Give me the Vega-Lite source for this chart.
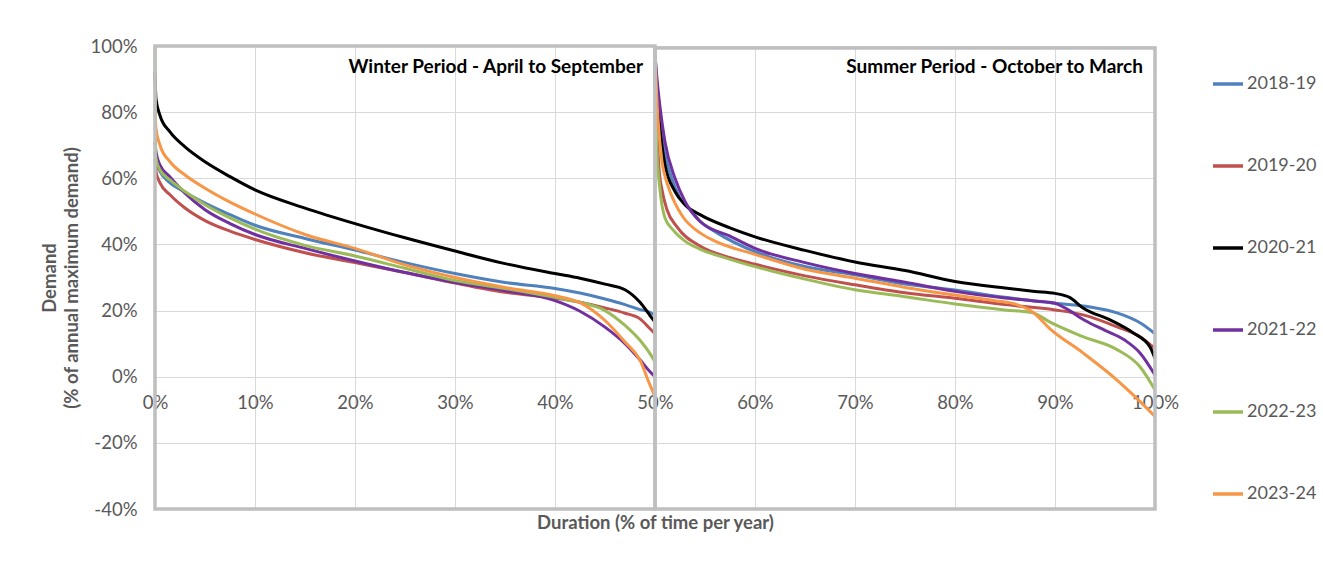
{
"$schema": "https://vega.github.io/schema/vega-lite/v6.json",
"width": 1000, "height": 463,
"autosize": {"type": "none"},
"padding": {"left": 155, "top": 46, "right": 168, "bottom": 71},
"background": "white",
"config": {"view": {"stroke": null}, "font": "Lato"},
"layer": [
{
"data": {"values": [
{"s":"2018-19","p":"W","x":0,"y":68},{"s":"2018-19","p":"W","x":0.1,"y":65},{"s":"2018-19","p":"W","x":0.5,"y":62},{"s":"2018-19","p":"W","x":1.5,"y":58.6},{"s":"2018-19","p":"W","x":3,"y":55.8},{"s":"2018-19","p":"W","x":5,"y":52.5},{"s":"2018-19","p":"W","x":7.5,"y":49},{"s":"2018-19","p":"W","x":10,"y":45.8},{"s":"2018-19","p":"W","x":15,"y":41.8},{"s":"2018-19","p":"W","x":20,"y":38.3},{"s":"2018-19","p":"W","x":25,"y":34.5},{"s":"2018-19","p":"W","x":30,"y":31.2},{"s":"2018-19","p":"W","x":35,"y":28.5},{"s":"2018-19","p":"W","x":40,"y":26.7},{"s":"2018-19","p":"W","x":42.5,"y":25.3},{"s":"2018-19","p":"W","x":45,"y":23.5},{"s":"2018-19","p":"W","x":47,"y":21.8},{"s":"2018-19","p":"W","x":48.5,"y":20.3},{"s":"2018-19","p":"W","x":49.5,"y":19.5},{"s":"2018-19","p":"W","x":50,"y":18.5},
{"s":"2018-19","p":"S","x":50,"y":98},{"s":"2018-19","p":"S","x":50.2,"y":88},{"s":"2018-19","p":"S","x":50.5,"y":76.7},{"s":"2018-19","p":"S","x":51,"y":67},{"s":"2018-19","p":"S","x":51.5,"y":61.6},{"s":"2018-19","p":"S","x":52.5,"y":54},{"s":"2018-19","p":"S","x":53.5,"y":50.5},{"s":"2018-19","p":"S","x":54.5,"y":47},{"s":"2018-19","p":"S","x":56.2,"y":43.5},{"s":"2018-19","p":"S","x":60,"y":37.8},{"s":"2018-19","p":"S","x":65,"y":33.3},{"s":"2018-19","p":"S","x":70,"y":30.8},{"s":"2018-19","p":"S","x":75,"y":28},{"s":"2018-19","p":"S","x":80,"y":26.2},{"s":"2018-19","p":"S","x":85,"y":24},{"s":"2018-19","p":"S","x":90,"y":22.2},{"s":"2018-19","p":"S","x":93.5,"y":21.1},{"s":"2018-19","p":"S","x":96.2,"y":19.3},{"s":"2018-19","p":"S","x":98.5,"y":16.3},{"s":"2018-19","p":"S","x":100,"y":13},
{"s":"2019-20","p":"W","x":0,"y":66},{"s":"2019-20","p":"W","x":0.1,"y":62},{"s":"2019-20","p":"W","x":0.5,"y":58.6},{"s":"2019-20","p":"W","x":1.5,"y":55},{"s":"2019-20","p":"W","x":3,"y":51},{"s":"2019-20","p":"W","x":5,"y":47.2},{"s":"2019-20","p":"W","x":7.5,"y":44},{"s":"2019-20","p":"W","x":10,"y":41.5},{"s":"2019-20","p":"W","x":15,"y":37.5},{"s":"2019-20","p":"W","x":20,"y":34.5},{"s":"2019-20","p":"W","x":25,"y":31.5},{"s":"2019-20","p":"W","x":30,"y":28.3},{"s":"2019-20","p":"W","x":35,"y":25.5},{"s":"2019-20","p":"W","x":40,"y":23.8},{"s":"2019-20","p":"W","x":42.5,"y":22.5},{"s":"2019-20","p":"W","x":45,"y":20.8},{"s":"2019-20","p":"W","x":47,"y":19.2},{"s":"2019-20","p":"W","x":48.5,"y":17.5},{"s":"2019-20","p":"W","x":49.5,"y":14.5},{"s":"2019-20","p":"W","x":50,"y":13},
{"s":"2019-20","p":"S","x":50,"y":93},{"s":"2019-20","p":"S","x":50.2,"y":75},{"s":"2019-20","p":"S","x":50.4,"y":63},{"s":"2019-20","p":"S","x":50.7,"y":56.5},{"s":"2019-20","p":"S","x":51.2,"y":50.5},{"s":"2019-20","p":"S","x":52.2,"y":45.3},{"s":"2019-20","p":"S","x":54.5,"y":39.5},{"s":"2019-20","p":"S","x":57.5,"y":36},{"s":"2019-20","p":"S","x":60,"y":34},{"s":"2019-20","p":"S","x":65,"y":30.5},{"s":"2019-20","p":"S","x":70,"y":27.8},{"s":"2019-20","p":"S","x":75,"y":25.4},{"s":"2019-20","p":"S","x":80,"y":23.7},{"s":"2019-20","p":"S","x":85,"y":21.8},{"s":"2019-20","p":"S","x":90,"y":20.2},{"s":"2019-20","p":"S","x":92.8,"y":18.7},{"s":"2019-20","p":"S","x":96.2,"y":15.1},{"s":"2019-20","p":"S","x":98.5,"y":12.1},{"s":"2019-20","p":"S","x":100,"y":8.5},
{"s":"2020-21","p":"W","x":0,"y":92},{"s":"2020-21","p":"W","x":0.1,"y":84},{"s":"2020-21","p":"W","x":0.5,"y":79},{"s":"2020-21","p":"W","x":1.5,"y":74},{"s":"2020-21","p":"W","x":3,"y":69.5},{"s":"2020-21","p":"W","x":5,"y":65},{"s":"2020-21","p":"W","x":7.5,"y":60.5},{"s":"2020-21","p":"W","x":10,"y":56.5},{"s":"2020-21","p":"W","x":15,"y":51},{"s":"2020-21","p":"W","x":20,"y":46.3},{"s":"2020-21","p":"W","x":25,"y":42},{"s":"2020-21","p":"W","x":30,"y":38},{"s":"2020-21","p":"W","x":35,"y":34.2},{"s":"2020-21","p":"W","x":40,"y":31.2},{"s":"2020-21","p":"W","x":42.5,"y":29.8},{"s":"2020-21","p":"W","x":45,"y":28},{"s":"2020-21","p":"W","x":47,"y":26.3},{"s":"2020-21","p":"W","x":48.5,"y":22.5},{"s":"2020-21","p":"W","x":49.5,"y":18.5},{"s":"2020-21","p":"W","x":50,"y":16.5},
{"s":"2020-21","p":"S","x":50,"y":95},{"s":"2020-21","p":"S","x":50.2,"y":85},{"s":"2020-21","p":"S","x":50.5,"y":75},{"s":"2020-21","p":"S","x":51,"y":64},{"s":"2020-21","p":"S","x":52,"y":56},{"s":"2020-21","p":"S","x":53,"y":52},{"s":"2020-21","p":"S","x":54.5,"y":49},{"s":"2020-21","p":"S","x":57.5,"y":45},{"s":"2020-21","p":"S","x":60,"y":42.3},{"s":"2020-21","p":"S","x":65,"y":38.2},{"s":"2020-21","p":"S","x":70,"y":34.7},{"s":"2020-21","p":"S","x":75,"y":32.1},{"s":"2020-21","p":"S","x":80,"y":28.8},{"s":"2020-21","p":"S","x":85,"y":26.8},{"s":"2020-21","p":"S","x":88,"y":25.8},{"s":"2020-21","p":"S","x":90,"y":25.2},{"s":"2020-21","p":"S","x":91.5,"y":23.9},{"s":"2020-21","p":"S","x":92.8,"y":20.8},{"s":"2020-21","p":"S","x":95.5,"y":17.2},{"s":"2020-21","p":"S","x":97.8,"y":13.3},{"s":"2020-21","p":"S","x":99.5,"y":9},{"s":"2020-21","p":"S","x":100,"y":5.5},
{"s":"2021-22","p":"W","x":0,"y":71},{"s":"2021-22","p":"W","x":0.1,"y":68},{"s":"2021-22","p":"W","x":0.5,"y":64},{"s":"2021-22","p":"W","x":1.5,"y":60.4},{"s":"2021-22","p":"W","x":3,"y":55.5},{"s":"2021-22","p":"W","x":5,"y":50.5},{"s":"2021-22","p":"W","x":7.5,"y":46.3},{"s":"2021-22","p":"W","x":10,"y":43},{"s":"2021-22","p":"W","x":15,"y":38.8},{"s":"2021-22","p":"W","x":20,"y":35},{"s":"2021-22","p":"W","x":25,"y":31.5},{"s":"2021-22","p":"W","x":30,"y":28.5},{"s":"2021-22","p":"W","x":35,"y":26},{"s":"2021-22","p":"W","x":40,"y":23},{"s":"2021-22","p":"W","x":42.5,"y":19.8},{"s":"2021-22","p":"W","x":45,"y":15},{"s":"2021-22","p":"W","x":47,"y":10},{"s":"2021-22","p":"W","x":48.5,"y":5.1},{"s":"2021-22","p":"W","x":49.5,"y":1.5},{"s":"2021-22","p":"W","x":50,"y":0},
{"s":"2021-22","p":"S","x":50,"y":97},{"s":"2021-22","p":"S","x":50.2,"y":90},{"s":"2021-22","p":"S","x":50.5,"y":81.6},{"s":"2021-22","p":"S","x":51,"y":71},{"s":"2021-22","p":"S","x":52,"y":60},{"s":"2021-22","p":"S","x":53,"y":53},{"s":"2021-22","p":"S","x":54.5,"y":47},{"s":"2021-22","p":"S","x":57.5,"y":42.5},{"s":"2021-22","p":"S","x":60,"y":38.8},{"s":"2021-22","p":"S","x":65,"y":34.5},{"s":"2021-22","p":"S","x":70,"y":31.2},{"s":"2021-22","p":"S","x":75,"y":28.6},{"s":"2021-22","p":"S","x":80,"y":25.8},{"s":"2021-22","p":"S","x":85,"y":23.8},{"s":"2021-22","p":"S","x":88,"y":22.9},{"s":"2021-22","p":"S","x":90,"y":22.2},{"s":"2021-22","p":"S","x":91,"y":20.8},{"s":"2021-22","p":"S","x":93,"y":17},{"s":"2021-22","p":"S","x":95,"y":14},{"s":"2021-22","p":"S","x":97,"y":11},{"s":"2021-22","p":"S","x":98.5,"y":7.2},{"s":"2021-22","p":"S","x":100,"y":0.5},
{"s":"2022-23","p":"W","x":0,"y":100},{"s":"2022-23","p":"W","x":0.05,"y":70},{"s":"2022-23","p":"W","x":0.1,"y":66},{"s":"2022-23","p":"W","x":0.5,"y":62.5},{"s":"2022-23","p":"W","x":1.5,"y":59.5},{"s":"2022-23","p":"W","x":3,"y":56},{"s":"2022-23","p":"W","x":5,"y":52},{"s":"2022-23","p":"W","x":7.5,"y":48},{"s":"2022-23","p":"W","x":10,"y":44.6},{"s":"2022-23","p":"W","x":15,"y":39.7},{"s":"2022-23","p":"W","x":20,"y":36.5},{"s":"2022-23","p":"W","x":25,"y":32.8},{"s":"2022-23","p":"W","x":30,"y":29.1},{"s":"2022-23","p":"W","x":35,"y":26.7},{"s":"2022-23","p":"W","x":40,"y":24},{"s":"2022-23","p":"W","x":42.5,"y":22.5},{"s":"2022-23","p":"W","x":45,"y":20},{"s":"2022-23","p":"W","x":47,"y":15.5},{"s":"2022-23","p":"W","x":48.5,"y":11},{"s":"2022-23","p":"W","x":49.5,"y":7},{"s":"2022-23","p":"W","x":50,"y":4.5},
{"s":"2022-23","p":"S","x":50,"y":90},{"s":"2022-23","p":"S","x":50.2,"y":68},{"s":"2022-23","p":"S","x":50.5,"y":56.5},{"s":"2022-23","p":"S","x":51,"y":48},{"s":"2022-23","p":"S","x":51.8,"y":44.4},{"s":"2022-23","p":"S","x":53,"y":41},{"s":"2022-23","p":"S","x":54.5,"y":38.6},{"s":"2022-23","p":"S","x":57.5,"y":35.5},{"s":"2022-23","p":"S","x":60,"y":33.3},{"s":"2022-23","p":"S","x":65,"y":29.5},{"s":"2022-23","p":"S","x":70,"y":26.3},{"s":"2022-23","p":"S","x":75,"y":24.2},{"s":"2022-23","p":"S","x":80,"y":22},{"s":"2022-23","p":"S","x":85,"y":20.2},{"s":"2022-23","p":"S","x":87.8,"y":19.3},{"s":"2022-23","p":"S","x":89.5,"y":16.5},{"s":"2022-23","p":"S","x":92.8,"y":12.1},{"s":"2022-23","p":"S","x":96.2,"y":8.2},{"s":"2022-23","p":"S","x":98.5,"y":3},{"s":"2022-23","p":"S","x":100,"y":-4},
{"s":"2023-24","p":"W","x":0,"y":80},{"s":"2023-24","p":"W","x":0.1,"y":75},{"s":"2023-24","p":"W","x":0.5,"y":70},{"s":"2023-24","p":"W","x":1.5,"y":65},{"s":"2023-24","p":"W","x":3,"y":61},{"s":"2023-24","p":"W","x":5,"y":57},{"s":"2023-24","p":"W","x":7.5,"y":52.8},{"s":"2023-24","p":"W","x":10,"y":49.2},{"s":"2023-24","p":"W","x":15,"y":43},{"s":"2023-24","p":"W","x":20,"y":38.8},{"s":"2023-24","p":"W","x":25,"y":33.8},{"s":"2023-24","p":"W","x":30,"y":30},{"s":"2023-24","p":"W","x":35,"y":27},{"s":"2023-24","p":"W","x":40,"y":24.5},{"s":"2023-24","p":"W","x":42.5,"y":22.4},{"s":"2023-24","p":"W","x":45,"y":17},{"s":"2023-24","p":"W","x":47,"y":10.5},{"s":"2023-24","p":"W","x":48.5,"y":5},{"s":"2023-24","p":"W","x":49.5,"y":-2.5},{"s":"2023-24","p":"W","x":50,"y":-6},
{"s":"2023-24","p":"S","x":50,"y":100},{"s":"2023-24","p":"S","x":50.1,"y":90},{"s":"2023-24","p":"S","x":50.3,"y":78},{"s":"2023-24","p":"S","x":50.7,"y":65},{"s":"2023-24","p":"S","x":51.2,"y":58.6},{"s":"2023-24","p":"S","x":52,"y":52.5},{"s":"2023-24","p":"S","x":52.8,"y":48.3},{"s":"2023-24","p":"S","x":54.5,"y":43.5},{"s":"2023-24","p":"S","x":56,"y":41},{"s":"2023-24","p":"S","x":60,"y":37},{"s":"2023-24","p":"S","x":65,"y":32.5},{"s":"2023-24","p":"S","x":70,"y":29.8},{"s":"2023-24","p":"S","x":75,"y":27},{"s":"2023-24","p":"S","x":80,"y":24.7},{"s":"2023-24","p":"S","x":84,"y":23},{"s":"2023-24","p":"S","x":86.2,"y":21.8},{"s":"2023-24","p":"S","x":87.8,"y":19.5},{"s":"2023-24","p":"S","x":89.5,"y":14.5},{"s":"2023-24","p":"S","x":92.8,"y":7.2},{"s":"2023-24","p":"S","x":96.2,"y":-1},{"s":"2023-24","p":"S","x":98,"y":-6},{"s":"2023-24","p":"S","x":100,"y":-12}
]},
"mark": {"type": "line", "strokeWidth": 3, "interpolate": "monotone"},
"encoding": {
"x": {"field": "x", "type": "quantitative", "scale": {"domain": [0, 100], "nice": false, "zero": false},
 "axis": {"values": [0,10,20,30,40,50,60,70,80,90,100], "labelExpr": "datum.value + '%'", "offset": -132, "domain": false, "ticks": false, "labelPadding": 16, "labelFlush": false, "labelOverlap": false, "labelFontSize": 18.5, "labelColor": "#595959", "gridColor": "#d9d9d9", "gridWidth": 1,
 "title": "Duration (% of time per year)", "titleY": 136, "titleFontSize": 18.5, "titleColor": "#595959", "titleFontWeight": "bold"}},
"y": {"field": "y", "type": "quantitative", "scale": {"domain": [-40, 100], "nice": false, "zero": false},
 "axis": {"values": [-40,-20,0,20,40,60,80,100], "labelExpr": "datum.value + '%'", "domain": false, "ticks": false, "labelPadding": 18, "labelFlush": false, "labelOverlap": false, "labelFontSize": 18.5, "labelColor": "#595959", "gridColor": "#d9d9d9", "gridWidth": 1,
 "title": ["Demand", "(% of annual maximum demand)"], "titleFontSize": 18.5, "titleColor": "#595959", "titleFontWeight": "bold", "titlePadding": 8, "titleLineHeight": 22}},
"color": {"field": "s", "type": "nominal",
 "scale": {"domain": ["2018-19","2019-20","2020-21","2021-22","2022-23","2023-24"], "range": ["#4f81bd","#c0504d","#000000","#7030a0","#9bbb59","#f79646"]},
 "legend": {"title": null, "orient": "none", "legendX": 1056, "legendY": 21, "symbolType": "stroke", "symbolSize": 900, "symbolStrokeWidth": 3.5, "labelFontSize": 18, "labelColor": "#595959", "rowPadding": 56, "labelOffset": 2}},
"detail": {"field": "p"}
}
},
{
"data": {"values": [{}]},
"mark": {"type": "rect", "fillOpacity": 0, "stroke": "#bfbfbf", "strokeWidth": 3.5},
"encoding": {"x": {"datum": 0, "type": "quantitative"}, "x2": {"datum": 50}, "y": {"datum": -40, "type": "quantitative"}, "y2": {"datum": 100}}
},
{
"data": {"values": [{}]},
"mark": {"type": "rect", "fillOpacity": 0, "stroke": "#bfbfbf", "strokeWidth": 3.5},
"encoding": {"x": {"datum": 50, "type": "quantitative"}, "x2": {"datum": 100}, "y": {"datum": -40, "type": "quantitative"}, "y2": {"datum": 99.4}}
},
{
"data": {"values": [{}]},
"mark": {"type": "text", "align": "right", "baseline": "middle", "fontWeight": "bold", "fontSize": 19, "color": "#000000"},
"encoding": {"x": {"datum": 48.8, "type": "quantitative"}, "y": {"datum": 93.7, "type": "quantitative"}, "text": {"value": "Winter Period - April to September"}}
},
{
"data": {"values": [{}]},
"mark": {"type": "text", "align": "right", "baseline": "middle", "fontWeight": "bold", "fontSize": 19, "color": "#000000"},
"encoding": {"x": {"datum": 98.8, "type": "quantitative"}, "y": {"datum": 93.7, "type": "quantitative"}, "text": {"value": "Summer Period - October to March"}}
}
]
}
